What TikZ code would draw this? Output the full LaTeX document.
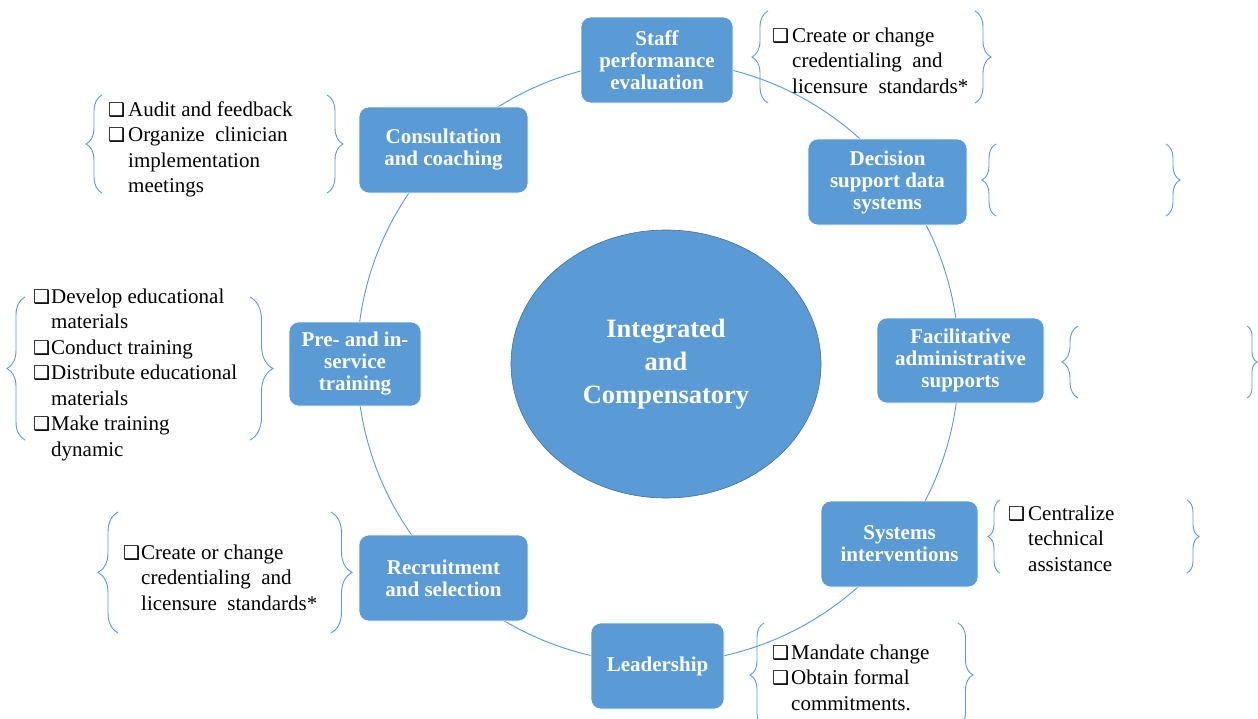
\documentclass[tikz,border=0pt]{standalone}
\usepackage{fontspec}
\setmainfont{Liberation Serif}
\newfontfamily\dvs{DejaVu Sans}
\usetikzlibrary{shapes.geometric,decorations.pathreplacing}
\definecolor{boxblue}{HTML}{5B9BD5}
\definecolor{edgeblue}{HTML}{41719C}
\newcommand{\cbx}{{\dvs\fontsize{19}{19}\selectfont ❑}}
\newlength\cbw \setlength\cbw{20pt}
\newcommand{\itm}[1]{\makebox[\cbw][l]{\cbx}#1}
\newcommand{\cnt}[1]{\hspace*{\cbw}#1}
\begin{document}
\begin{tikzpicture}[x=1pt,y=-1pt,
  stepbox/.style={rectangle, rounded corners=10pt, fill=boxblue, draw=white, line width=0.6pt,
    text=white, font=\fontsize{21}{22}\selectfont\bfseries, align=center, inner sep=0pt},
  lst/.style={anchor=north west, inner sep=0pt, align=left, font=\fontsize{21}{25.5}\selectfont},
  brc/.style={draw=boxblue, line width=0.9pt, decorate, decoration={brace, amplitude=#1}},
  ring/.style={draw=boxblue, line width=0.9pt}]
\useasboundingbox[fill=white] (0,0) rectangle (1258,718);

% ring behind everything
\coordinate (rc) at (658,362);
\draw[ring] (rc) circle (301pt);

% centre
\node[ellipse, fill=boxblue, draw=edgeblue, line width=0.6pt, minimum width=310, minimum height=268,
  inner sep=0pt, text=white, align=center, font=\fontsize{26.5}{33}\selectfont\bfseries] (core) at (666,364)
  {Integrated\\and\\Compensatory};

% boxes
\node[stepbox, minimum width=152, minimum height=86] (staff) at (657,60) {Staff\\performance\\evaluation};
\node[stepbox, minimum width=169, minimum height=86] (consult) at (443.5,150) {Consultation\\and coaching};
\node[stepbox, minimum width=159, minimum height=86] (decision) at (887.5,182) {Decision\\support data\\systems};
\node[stepbox, minimum width=167, minimum height=85] (facil) at (960.5,360.5) {Facilitative\\administrative\\supports};
\node[stepbox, minimum width=157, minimum height=86] (systems) at (899.5,544) {Systems\\interventions};
\node[stepbox, minimum width=133, minimum height=86] (leader) at (657.5,666) {Leadership};
\node[stepbox, minimum width=169, minimum height=86] (recruit) at (443.5,578) {Recruitment\\and selection};
\node[stepbox, minimum width=132, minimum height=84] (pre) at (355,364) {Pre- and in-\\service\\training};

% braces
\draw[brc=16] (768,103) -- (768,11);
\draw[brc=16] (975,11) -- (975,103);
\draw[brc=16] (102,193) -- (102,95);
\draw[brc=16] (327,95) -- (327,193);
\draw[brc=14] (996,216) -- (996,144);
\draw[brc=14] (1166,144) -- (1166,216);
\draw[brc=16] (1078,398) -- (1078,326);
\draw[brc=10] (1247,326) -- (1247,398);
\draw[brc=12] (1000,573) -- (1000,500);
\draw[brc=12] (1187,500) -- (1187,573);
\draw[brc=14] (764,727) -- (764,623);
\draw[brc=15] (958,623) -- (958,727);
\draw[brc=18] (25,440) -- (25,297);
\draw[brc=23] (250,297) -- (250,440);
\draw[brc=20] (118,633) -- (118,512);
\draw[brc=21] (331,512) -- (331,633);

% lists
\node[lst] (lstaff) at (772,24) {\strut\itm{Create or change}\\\cnt{credentialing \ and}\\\cnt{licensure \ standards*}};
\node[lst] (lconsult) at (108,98) {\strut\itm{Audit and feedback}\\\itm{Organize \ clinician}\\\cnt{implementation}\\\cnt{meetings}};
\begin{scope}[every node/.append style={font=\fontsize{21}{25}\selectfont}]
\setlength\cbw{18pt}
\node[lst] (lpre) at (33,285) {\strut\itm{Develop educational}\\\cnt{materials}\\\itm{Conduct training}\\\itm{Distribute educational}\\\cnt{materials}\\\itm{Make training}\\\cnt{dynamic}};
\node[lst] (lrecruit) at (123,541) {\strut\itm{Create or change}\\\cnt{credentialing \ and}\\\cnt{licensure \ standards*}};
\end{scope}
\node[lst] (lsystems) at (1008,502) {\strut\itm{Centralize}\\\cnt{technical}\\\cnt{assistance}};
\begin{scope}
\setlength\cbw{19pt}
\node[lst] (lleader) at (772,641) {\strut\itm{Mandate change}\\\itm{Obtain formal}\\\cnt{commitments.}};
\end{scope}
\end{tikzpicture}
\end{document}
